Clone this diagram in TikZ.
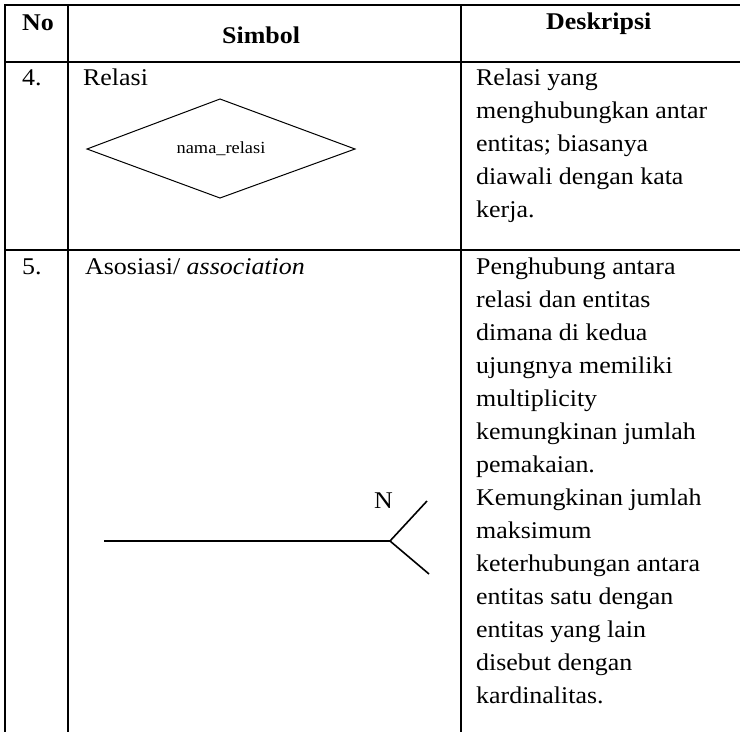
\documentclass[tikz,border=0pt]{standalone}
\usepackage{fontspec}
\setmainfont[FakeStretch=1.08]{Liberation Serif}
\begin{document}
\begin{tikzpicture}[x=1pt,y=-1pt,
  grid/.style={line width=1.6pt},
  txt/.style={anchor=base west,inner sep=0pt,font=\fontsize{24}{33}\selectfont},
  hdr/.style={anchor=base west,inner sep=0pt,font=\fontsize{24}{33}\selectfont\bfseries},
  small/.style={anchor=center,inner sep=0pt,font=\fontsize{17}{20}\selectfont},
  sym/.style={line width=1pt},
  assoc/.style={line width=2pt},
  branch/.style={line width=1.6pt}]
\useasboundingbox (0,0) rectangle (740,732);
% table rules
\draw[grid] (740,5) -- (5,5) -- (5,732);
\draw[grid] (68,5) -- (68,732);
\draw[grid] (461,5) -- (461,732);
\draw[grid] (5,62) -- (740,62);
\draw[grid] (5,250) -- (740,250);
% header
\node[hdr] (hNo) at (22,30) {No};
\node[hdr] (hSim) at (222,43) {Simbol};
\node[hdr] (hDes) at (546,29) {Deskripsi};
% row 4
\node[txt] (no4) at (22,85) {4.};
\node[txt] (sym4) at (83,85) {Relasi};
\foreach \t [count=\i from 0] in {Relasi yang,menghubungkan antar,entitas; biasanya,diawali dengan kata,kerja.}
  \node[txt] (dfour\i) at (476,85+33*\i) {\t};
\coordinate (dL) at (87,149);
\coordinate (dT) at (220,99);
\coordinate (dR) at (355,149);
\coordinate (dB) at (220,198);
\draw[sym] (dL) -- (dT) -- (dR) -- (dB) -- cycle;
\node[small] (nr) at (221,149) {nama\_relasi};
% row 5
\node[txt] (no5) at (22,274) {5.};
\node[txt] (sym5) at (85,274) {Asosiasi/ \textit{association}};
\foreach \t [count=\i from 0] in {Penghubung antara,relasi dan entitas,dimana di kedua,ujungnya memiliki,multiplicity,kemungkinan jumlah,pemakaian.,Kemungkinan jumlah,maksimum,keterhubungan antara,entitas satu dengan,entitas yang lain,disebut dengan,kardinalitas.}
  \node[txt] (dfive\i) at (476,274+33*\i) {\t};
\coordinate (aL) at (104,541);
\coordinate (aJ) at (390,541);
\coordinate (aU) at (427,501);
\coordinate (aD) at (429,574);
\draw[assoc] (aL) -- (aJ);
\draw[branch] (aJ) -- (aU);
\draw[branch] (aJ) -- (aD);
\node[txt] (N) at (374,508) {N};
\end{tikzpicture}
\end{document}
